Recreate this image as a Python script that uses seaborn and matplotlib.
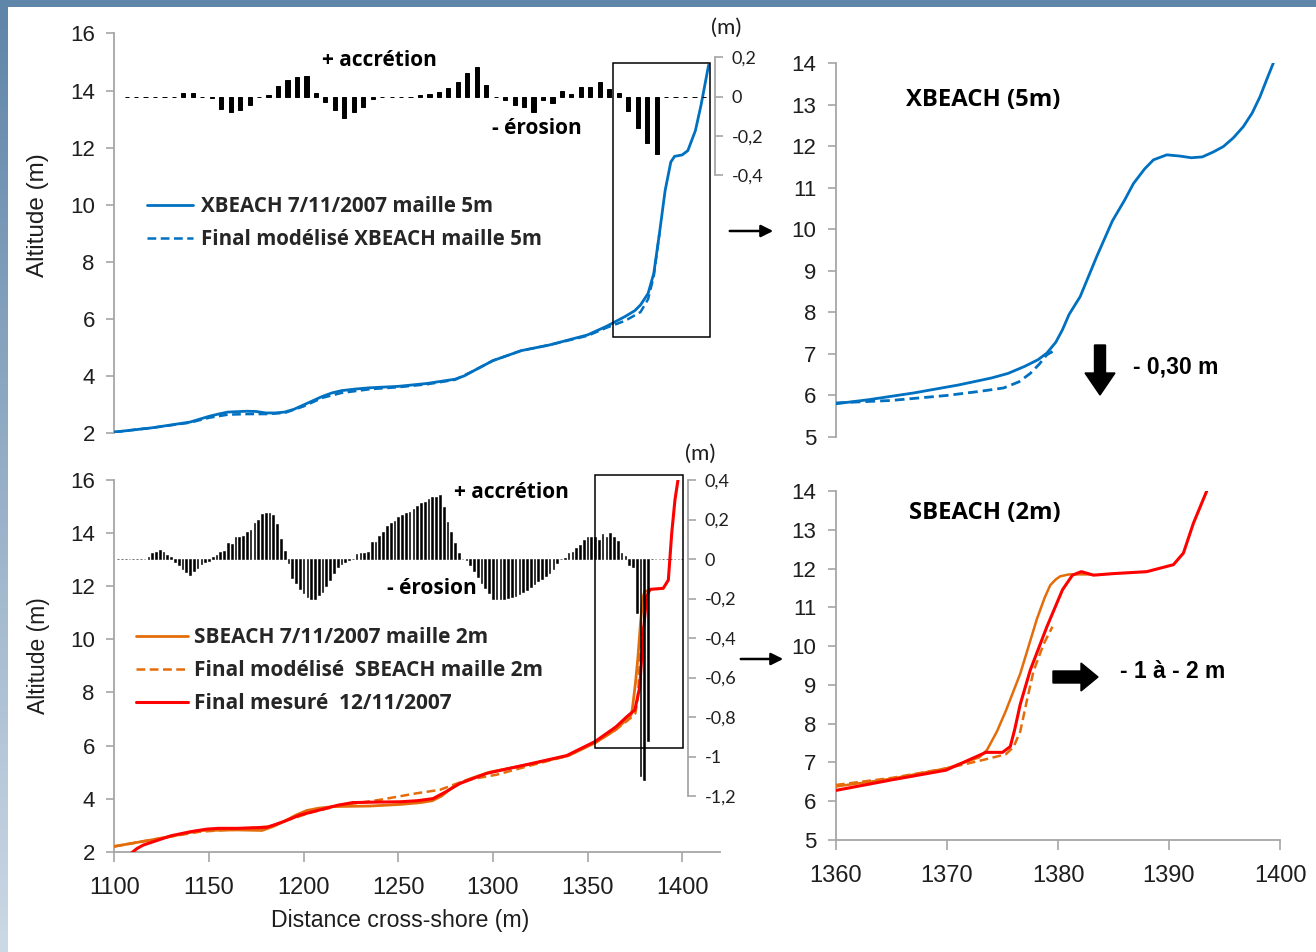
import numpy as np
import pandas as pd
import matplotlib
matplotlib.use("Agg")
import matplotlib.pyplot as plt
from matplotlib.patches import Rectangle, FancyArrow
import seaborn as sns

# ---------------- DATA ----------------
# Top overview: XBEACH 5 m
xb_init_x = [1100, 1120, 1140, 1150, 1155, 1160, 1170, 1175, 1180, 1185, 1190, 1195, 1200, 1205,
             1210, 1215, 1220, 1228, 1235, 1250, 1265, 1280, 1285, 1290, 1300, 1315, 1330, 1350,
             1360, 1370, 1375, 1378, 1382, 1385, 1388, 1391, 1394, 1396, 1400, 1403, 1407, 1410,
             1414]
xb_init_y = [2.05, 2.2, 2.4, 2.6, 2.68, 2.75, 2.78, 2.77, 2.72, 2.72, 2.75, 2.85, 3.0, 3.15,
             3.3, 3.42, 3.5, 3.56, 3.6, 3.65, 3.75, 3.9, 4.02, 4.2, 4.55, 4.9, 5.1, 5.45,
             5.75, 6.1, 6.3, 6.5, 6.9, 7.6, 9.0, 10.5, 11.5, 11.7, 11.75, 11.9, 12.6, 13.5,
             14.9]
xb_final_x = [1100, 1120, 1140, 1150, 1160, 1170, 1180, 1190, 1200, 1210, 1220, 1235, 1250, 1265,
              1280, 1290, 1300, 1315, 1330, 1350, 1360, 1370, 1378, 1382, 1385, 1388]
xb_final_y = [2.05, 2.2, 2.38, 2.55, 2.66, 2.68, 2.68, 2.72, 2.95, 3.25, 3.42, 3.55, 3.62, 3.72,
              3.88, 4.2, 4.55, 4.9, 5.1, 5.42, 5.7, 5.95, 6.25, 6.7, 7.5, 9.0]

# Top overview: erosion / accretion bars (m), every 5 m
xb_bar_x = np.arange(1106.5, 1416, 5.0)
xb_bar_v = [0, 0, 0, 0, 0, 0, 0.02, 0.02, 0, -0.005, -0.06, -0.08, -0.07, -0.04, 0, 0.01,
            0.055, 0.085, 0.10, 0.105, 0.02, -0.025, -0.07, -0.11, -0.08, -0.05, -0.01, 0, 0,
            0, 0, 0.01, 0.015, 0.025, 0.045, 0.075, 0.12, 0.15, 0.06, 0, -0.017, -0.04, -0.05,
            -0.08, -0.017, -0.03, 0.027, 0.013, 0.047, 0.05, 0.077, 0.038, 0.02, -0.073, -0.16,
            -0.236, -0.29, 0, 0, 0, 0, 0]

# Bottom overview: SBEACH 2 m
sb_init_x = [1100, 1120, 1135, 1145, 1165, 1178, 1184, 1190, 1196, 1201.6, 1208, 1215.7, 1235,
             1251, 1262, 1268, 1273, 1279, 1288, 1298.5, 1320, 1340, 1354, 1365, 1372.9, 1373.6,
             1375.3, 1376.6, 1378.1, 1379.3, 1380.2, 1383]
sb_init_y = [2.2, 2.45, 2.65, 2.8, 2.82, 2.8, 2.95, 3.15, 3.38, 3.55, 3.64, 3.7, 3.72,
             3.78, 3.85, 3.92, 4.1, 4.45, 4.75, 5.0, 5.3, 5.62, 6.1, 6.6, 7.13, 7.32,
             8.33, 9.29, 10.7, 11.57, 11.8, 11.85]
sb_final_x = [1100, 1120, 1145, 1165, 1182, 1192, 1205, 1220, 1240, 1259.7, 1272, 1286, 1302,
              1320, 1339, 1354, 1365, 1372.9, 1375.3, 1376.6, 1377.8, 1378.7, 1379.5]
sb_final_y = [2.2, 2.45, 2.75, 2.85, 2.95, 3.2, 3.5, 3.75, 3.95, 4.2, 4.33, 4.7, 4.9,
              5.25, 5.6, 6.1, 6.6, 7.04, 7.21, 7.8, 9.36, 10.05, 10.5]
meas_x = [1109.2, 1112, 1115.3, 1130, 1140, 1148.8, 1155, 1165, 1180.5, 1185, 1190, 1198, 1210,
          1218, 1226, 1240, 1251, 1260, 1268.4, 1275, 1282.6, 1296.7, 1321, 1339, 1354, 1365,
          1370.7, 1375, 1377.6, 1379.4, 1381.2, 1383, 1390, 1392.7, 1394.5, 1396.2, 1397.8]
meas_y = [1.96, 2.12, 2.25, 2.6, 2.75, 2.85, 2.88, 2.88, 2.92, 3.02, 3.15, 3.38, 3.6,
          3.75, 3.85, 3.87, 3.88, 3.92, 4.0, 4.25, 4.57, 4.95, 5.33, 5.62, 6.15, 6.7,
          7.08, 7.34, 8.2, 10.2, 11.6, 11.88, 11.92, 12.23, 14.0, 15.25, 16.0]

# Bottom overview: erosion / accretion bars (m), every 2 m
sb_bar_x = np.arange(1102, 1401, 2.0)
sb_bar_v = [0, 0, 0, 0, 0, 0, 0, 0, 0.012, 0.029, 0.037, 0.044, 0.034, 0.02, 0.008, -0.013,
            -0.03, -0.052, -0.064, -0.081, -0.06, -0.047, -0.027, -0.013, -0.01, 0.012, 0.02,
            0.037, 0.042, 0.079, 0.074, 0.11, 0.11, 0.118, 0.135, 0.147, 0.184, 0.197, 0.228,
            0.234, 0.234, 0.221, 0.177, 0.101, 0.042, -0.022, -0.095, -0.12, -0.15, -0.174,
            -0.19, -0.202, -0.204, -0.182, -0.165, -0.137, -0.106, -0.073, -0.042, -0.025,
            -0.013, -0.005, 0, 0.025, 0.029, 0.029, 0.037, 0.088, 0.088, 0.116, 0.138, 0.169,
            0.184, 0.192, 0.211, 0.223, 0.231, 0.239, 0.251, 0.268, 0.282, 0.29, 0.302, 0.312,
            0.315, 0.324, 0.265, 0.189, 0.138, 0.079, 0.029, 0, -0.005, -0.03, -0.061, -0.089,
            -0.12, -0.145, -0.17, -0.2, -0.205, -0.204, -0.2, -0.197, -0.192, -0.185, -0.177,
            -0.168, -0.157, -0.14, -0.128, -0.112, -0.1, -0.085, -0.07, -0.05, -0.02, 0, 0.005,
            0.03, 0.037, 0.054, 0.071, 0.096, 0.11, 0.11, 0.113, 0.096, 0.125, 0.11, 0.133,
            0.11, 0.093, 0.032, 0.015, -0.03, -0.04, -0.275, -1.10, -1.12, -0.92, 0, 0, 0, 0,
            0, 0, 0, 0, 0]

# Zoomed panels
zx_init_x = [1360, 1363, 1367, 1371, 1374, 1375.5, 1377, 1378.2, 1379, 1379.8, 1380.4, 1381,
             1382, 1383.5, 1384.9, 1386, 1386.8, 1387.8, 1388.6, 1389.8, 1391, 1392, 1393,
             1394, 1394.9, 1395.8, 1396.7, 1397.5, 1398.2, 1398.8, 1399.4]
zx_init_y = [5.8, 5.9, 6.06, 6.25, 6.42, 6.53, 6.7, 6.86, 7.02, 7.28, 7.58, 7.95,
             8.38, 9.35, 10.2, 10.7, 11.1, 11.45, 11.67, 11.79, 11.76, 11.72, 11.74,
             11.86, 11.99, 12.2, 12.47, 12.8, 13.19, 13.6, 14.0]
zx_final_x = [1360, 1365, 1370, 1373, 1375.1, 1376.5, 1377.5, 1378.3, 1379, 1379.8]
zx_final_y = [5.82, 5.88, 6.0, 6.1, 6.18, 6.33, 6.53, 6.75, 6.98, 7.1]

zs_init_x = [1360, 1365, 1370, 1372.9, 1373.6, 1374.5, 1375.3, 1376.6, 1378.1, 1378.8, 1379.3,
             1379.8, 1380.2, 1381, 1383]
zs_init_y = [6.38, 6.58, 6.85, 7.13, 7.32, 7.8, 8.33, 9.29, 10.7, 11.25, 11.57,
             11.72, 11.8, 11.85, 11.85]
zs_final_x = [1360, 1365, 1370, 1372.9, 1375.3, 1376, 1376.6, 1377.2, 1377.8, 1378.7, 1379.5]
zs_final_y = [6.42, 6.6, 6.85, 7.04, 7.21, 7.4, 7.8, 8.6, 9.36, 10.05, 10.5]
zs_meas_x = [1360, 1365, 1369.9, 1373.5, 1375, 1375.7, 1376.1, 1376.6, 1377.5, 1379, 1380.4,
             1381.3, 1382.1, 1383.2, 1385, 1388, 1390.4, 1391.3, 1392.2, 1393.4]
zs_meas_y = [6.28, 6.55, 6.8, 7.26, 7.26, 7.41, 7.85, 8.5, 9.38, 10.5, 11.45,
             11.83, 11.92, 11.83, 11.87, 11.92, 12.1, 12.4, 13.17, 14.0]

labels_top = ["XBEACH 7/11/2007 maille 5m", "Final modélisé XBEACH maille 5m"]
labels_bot = ["SBEACH 7/11/2007 maille 2m", "Final modélisé  SBEACH maille 2m",
              "Final mesuré  12/11/2007"]

BLUE = "#0070C0"
ORANGE = "#E46C0A"
RED = "#FF0000"
GRAY = "#A6A6A6"
TXT = "#1E1E1E"
BOLDF = ["Open Sans", "DejaVu Sans"]
CALF = ["Lato", "DejaVu Sans"]

# ---------------- FIGURE ----------------
sns.set_style("white")
plt.rcParams["font.family"] = ["Liberation Sans", "DejaVu Sans"]
W, H = 1316, 952
fig = plt.figure(figsize=(W / 100, H / 100), dpi=100)
fig.patch.set_facecolor("white")


def rect(l, t, r, b):
    return [l / W, 1 - b / H, (r - l) / W, (b - t) / H]


def style_main(ax, ylim, yticks, show_x):
    ax.set_facecolor("none")
    for s in ["top", "right"]:
        ax.spines[s].set_visible(False)
    ax.spines["left"].set_color(GRAY)
    ax.spines["left"].set_linewidth(1.3)
    ax.spines["bottom"].set_color(GRAY)
    ax.spines["bottom"].set_linewidth(1.3)
    ax.spines["bottom"].set_visible(show_x)
    ax.set_ylim(*ylim)
    ax.set_yticks(yticks)
    ax.tick_params(axis="y", direction="out", length=6, width=1.2, color=GRAY,
                   labelsize=16, labelcolor=TXT, pad=8, left=True)
    if show_x:
        ax.tick_params(axis="x", direction="out", length=7, width=1.2, color=GRAY,
                       labelsize=17, labelcolor=TXT, pad=11, bottom=True)
    else:
        ax.set_xticks([])
    ax.set_xlabel("")
    ax.set_ylabel("")
    ax.grid(False)


def line(ax, xs, ys, color, dashed=False, lw=2.0, z=3):
    df = pd.DataFrame({"x": xs, "y": ys})
    sns.lineplot(data=df, x="x", y="y", ax=ax, color=color, lw=lw, sort=False,
                 estimator=None, linestyle=(0, (3.5, 1.8)) if dashed else "-", zorder=z,
                 legend=False)
    ax.get_lines()[-1].set_solid_joinstyle("round")
    ax.get_lines()[-1].set_dash_joinstyle("round")


def style_bars(ax, ylim, yticks, ylabels, spine_x, xlim):
    ax.set_facecolor("none")
    ax.set_xlim(*xlim)
    ax.set_ylim(*ylim)
    for s in ["top", "left", "bottom"]:
        ax.spines[s].set_visible(False)
    ax.spines["right"].set_position(("data", spine_x))
    ax.spines["right"].set_color(GRAY)
    ax.spines["right"].set_linewidth(1.3)
    ax.yaxis.tick_right()
    ax.set_yticks(yticks)
    ax.set_yticklabels(ylabels, fontfamily=CALF)
    ax.tick_params(axis="y", direction="out", length=6, width=1.2, color=GRAY,
                   labelsize=13, labelcolor=TXT, pad=6, right=True, left=False)
    ax.set_xticks([])
    ax.grid(False)


XLIM = (1100, 1420)

# ---- Top-left overview ----
ax1 = fig.add_axes(rect(114.3, 33.5, 720, 433.5))
ax1.set_xlim(*XLIM)
line(ax1, xb_final_x, xb_final_y, BLUE, dashed=True, lw=1.8)
line(ax1, xb_init_x, xb_init_y, BLUE, lw=2.0)
style_main(ax1, (2, 16), range(2, 17, 2), False)

ax1b = fig.add_axes(rect(114.3, 57.3, 720, 175.5), zorder=2)
ax1b.bar(xb_bar_x, xb_bar_v, width=2.2, color="black", edgecolor="black", linewidth=0.7)
style_bars(ax1b, (-0.4, 0.2), [0.2, 0, -0.2, -0.4], ["0,2", "0", "-0,2", "-0,4"], 1417.3, XLIM)

# ---- Bottom-left overview ----
ax2 = fig.add_axes(rect(114.3, 480, 720, 851.7))
ax2.set_xlim(*XLIM)
line(ax2, sb_init_x, sb_init_y, ORANGE, lw=2.0, z=3)
line(ax2, sb_final_x, sb_final_y, ORANGE, dashed=True, lw=1.8, z=3)
line(ax2, meas_x, meas_y, RED, lw=2.2, z=4)
style_main(ax2, (2, 16), range(2, 17, 2), True)
ax2.set_xticks(range(1100, 1401, 50))
ax2.set_xlim(*XLIM)

ax2b = fig.add_axes(rect(114.3, 480, 720, 796), zorder=2)
ax2b.bar(sb_bar_x, sb_bar_v, width=0.9, color="black", edgecolor="black", linewidth=0.4)
style_bars(ax2b, (-1.2, 0.4), [0.4, 0.2, 0, -0.2, -0.4, -0.6, -0.8, -1.0, -1.2],
           ["0,4", "0,2", "0", "-0,2", "-0,4", "-0,6", "-0,8", "-1", "-1,2"], 1403.0, XLIM)

# ---- Top-right zoom ----
ax3 = fig.add_axes(rect(836, 63, 1280, 437))
line(ax3, zx_final_x, zx_final_y, BLUE, dashed=True, lw=2.0)
line(ax3, zx_init_x, zx_init_y, BLUE, lw=2.0)
ax3.set_xlim(1360, 1400)
style_main(ax3, (5, 14), range(5, 15), False)

# ---- Bottom-right zoom ----
ax4 = fig.add_axes(rect(836, 491, 1280, 840))
line(ax4, zs_init_x, zs_init_y, ORANGE, lw=1.8, z=3)
line(ax4, zs_final_x, zs_final_y, ORANGE, dashed=True, lw=1.8, z=3)
line(ax4, zs_meas_x, zs_meas_y, RED, lw=2.2, z=4)
style_main(ax4, (5, 14), range(5, 15), True)
ax4.set_xticks(range(1360, 1401, 10))
ax4.set_xlim(1360, 1400)

# ---- legends ----
h1 = ax1.get_lines()
ax1.legend([h1[1], h1[0]], labels_top, loc="upper left",
           bbox_to_anchor=(128.5 / W, 1 - 177.5 / H), bbox_transform=fig.transFigure,
           frameon=False, handlelength=2.24, handletextpad=0.39, labelspacing=0.6,
           prop=dict(family=BOLDF, weight="bold", size=14.8))
h2 = ax2.get_lines()
ax2.legend([h2[0], h2[1], h2[2]], labels_bot, loc="upper left",
           bbox_to_anchor=(117.5 / W, 1 - 608.4 / H), bbox_transform=fig.transFigure,
           frameon=False, handlelength=2.48, handletextpad=0.29, labelspacing=0.57,
           prop=dict(family=BOLDF, weight="bold", size=15.05))

# ---- annotation layer in pixel coordinates ----
axa = fig.add_axes([0, 0, 1, 1], zorder=10)
axa.set_xlim(0, W)
axa.set_ylim(H, 0)
axa.axis("off")
axa.set_facecolor("none")

# blue frame (light gradient down the left edge)
grad = np.linspace(0, 1, 256)[:, None]
c_top = np.array([0.37, 0.52, 0.66])
c_bot = np.array([0.80, 0.85, 0.90])
img = c_top[None, None, :] * (1 - grad[:, :, None]) + c_bot[None, None, :] * grad[:, :, None]
axa.imshow(img, extent=(0, 8, H, 0), aspect="auto", zorder=1)
axa.add_patch(Rectangle((0, 0), W, 7, color="#5F85A8", lw=0, zorder=2))
axa.set_xlim(0, W)
axa.set_ylim(H, 0)

# zoom boxes
axa.add_patch(Rectangle((613, 63), 97, 274, fill=False, ec="black", lw=1.1))
axa.add_patch(Rectangle((595, 475), 88, 273, fill=False, ec="black", lw=1.1))

kw = dict(ha="center", va="center", color="black", fontsize=15, fontfamily=BOLDF,
          fontweight="bold")
axa.text(379, 60, "+ accrétion", **kw)
axa.text(537, 129, "- érosion", **kw)
axa.text(511, 493, "+ accrétion", **kw)
axa.text(432, 589, "- érosion", **kw)
axa.text(726, 28, "(m)", ha="center", va="center", color=TXT, fontsize=16, fontfamily=CALF)
axa.text(700, 454, "(m)", ha="center", va="center", color=TXT, fontsize=16, fontfamily=CALF)
kw2 = dict(kw)
kw2["fontsize"] = 17.2
axa.text(983, 100, "XBEACH (5m)", **kw2)
axa.text(985, 513, "SBEACH (2m)", **kw2)
axa.text(1176, 367, "- 0,30 m", ha="center", va="center", color="black", fontsize=16.5,
         fontweight="bold")
axa.text(1173, 672, "- 1 à - 2 m", ha="center", va="center", color="black", fontsize=16.5,
         fontweight="bold")
axa.text(38, 215, "Altitude (m)", rotation=90, ha="center", va="center", color=TXT,
         fontsize=17.5)
axa.text(38, 656, "Altitude (m)", rotation=90, ha="center", va="center", color=TXT,
         fontsize=16.5)
axa.text(400, 921, "Distance cross-shore (m)", ha="center", va="center", color=TXT,
         fontsize=16.7)

axa.add_patch(FancyArrow(1100, 345, 0, 50, width=11, head_width=30, head_length=22,
                         length_includes_head=True, color="black"))
axa.add_patch(FancyArrow(1053, 677, 45, 0, width=12, head_width=28, head_length=17,
                         length_includes_head=True, color="black"))
axa.annotate("", xy=(776, 231), xytext=(727, 231),
             arrowprops=dict(arrowstyle="-|>", color="black", lw=1.8, mutation_scale=18))
axa.annotate("", xy=(786, 659), xytext=(738, 659),
             arrowprops=dict(arrowstyle="-|>", color="black", lw=1.8, mutation_scale=18))

fig.savefig("out.png", dpi=100, facecolor="white")
